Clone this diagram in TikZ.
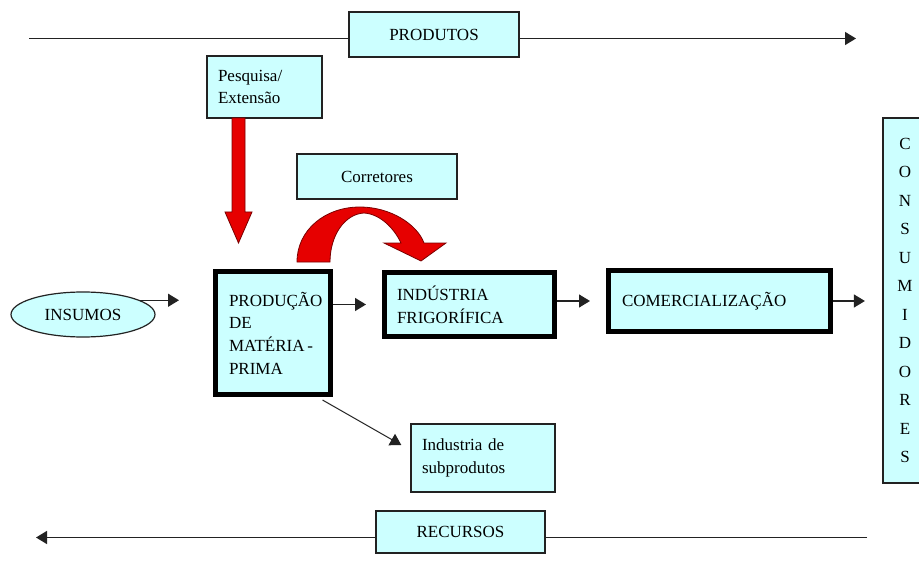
\documentclass[tikz,border=0pt]{standalone}
\usepackage{fontspec}
\setmainfont{Liberation Serif}
\usetikzlibrary{arrows.meta,shapes.geometric,calc}
\definecolor{boxfill}{HTML}{CCFFFF}
\definecolor{redfill}{HTML}{E60000}
\definecolor{redline}{HTML}{7A0000}
\definecolor{lin}{HTML}{222222}
\newcommand\lblfont{\fontsize{17}{22.7}\selectfont}
\newcommand\consfont{\fontsize{17}{28.5}\selectfont}
\begin{document}
\begin{tikzpicture}[x=1pt,y=-1pt,
  thinbox/.style={draw=lin, line width=1.4pt, fill=boxfill, inner sep=0pt, font=\lblfont},
  thickbox/.style={draw=black, line width=5pt, fill=boxfill, inner sep=0pt, font=\lblfont},
  plainline/.style={draw=lin, line width=1.4pt},
  arr/.style={draw=lin, line width=1.3pt, -{Triangle[length=11pt,width=13pt]}},
  redarr/.style={fill=redfill, draw=redline, line width=0.8pt}]
\useasboundingbox (0,0) rectangle (919,583);
\clip (0,0) rectangle (919,583);
\fill[white] (0,0) rectangle (919,583);

% coordinates for free line ends
\coordinate (tl) at (29,38.5);
\coordinate (tr) at (856,38.5);
\coordinate (bl) at (36,537.5);
\coordinate (br) at (867,537.5);

% nodes
\node[thinbox, minimum width=170pt, minimum height=45pt] (prod) at (434,34.5) {PRODUTOS};
\node[thinbox, minimum width=115pt, minimum height=62pt, text width=93pt, align=left] (pes) at (264.5,87) {Pesquisa/\\Extensão};
\node[thinbox, minimum width=160pt, minimum height=45pt] (cor) at (377,176.5) {Corretores};
\node[thickbox, minimum width=115pt, minimum height=123pt, text width=88pt, align=left] (pmp) at (273,333) {PRODUÇÃO\\DE\\MATÉRIA\,-\\PRIMA};
\node[thickbox, minimum width=170pt, minimum height=64pt, text width=145pt, align=left] (ind) at (469.5,304.5) {INDÚSTRIA\\FRIGORÍFICA};
\node[thickbox, minimum width=222pt, minimum height=61pt, text width=195pt, align=left] (com) at (719.5,301) {COMERCIALIZAÇÃO};
\node[draw=lin, line width=1.2pt, fill=boxfill, ellipse, minimum width=144pt, minimum height=45pt, inner sep=0pt, font=\lblfont] (ins) at (83,314.5) {INSUMOS};
\node[thinbox, minimum width=144pt, minimum height=68pt, text width=122pt, align=left] (sub) at (483,458) {Industria de\\subprodutos};
\node[thinbox, minimum width=169pt, minimum height=42pt] (rec) at (460.5,532) {RECURSOS};
\node[thinbox, line width=2.2pt, minimum width=44pt, minimum height=365pt, align=center, font=\consfont] (cons) at (905,300.5) {C\\O\\N\\S\\U\\M\\I\\D\\O\\R\\E\\S};

% top and bottom flows
\draw[plainline] (tl) -- (tl -| prod.west);
\draw[arr] (tl -| prod.east) -- (tr);
\draw[plainline] (br) -- (br -| rec.east);
\draw[arr] (br -| rec.west) -- (bl);

% chain arrows
\draw[arr, shorten >=34pt] (ins.14) -- (ins.14 -| pmp.west);
\draw[arr, shorten >=16pt] (ind.west -| pmp.east) -- (ind.west);
\draw[arr, shorten >=16pt] (com.west -| ind.east) -- (com.west);
\draw[arr, shorten >=17pt] (com.east) -- (com.east -| cons.west);
\draw[arr, line width=1pt] ($(pmp.south east)+(-10.5,3)$) -- ($(sub.west)+(-9,-13)$);

% red arrow from Pesquisa/Extensão down to production
\path[redarr] (232,118) -- (232,212) -- (225,212) -- (238.5,243) -- (252,212) -- (245,212) -- (245,118) -- cycle;

% curved red arrow over the production box
\path[redarr] (297,262) .. controls (297,230) and (325,207) .. (360,207)
  .. controls (390,207) and (417,224) .. (424,243)
  -- (446,243) -- (421,261) -- (384,243) -- (401,243)
  .. controls (394,228) and (380,214) .. (364,213)
  .. controls (345,214) and (330,235) .. (330,262) -- cycle;
\end{tikzpicture}
\end{document}
